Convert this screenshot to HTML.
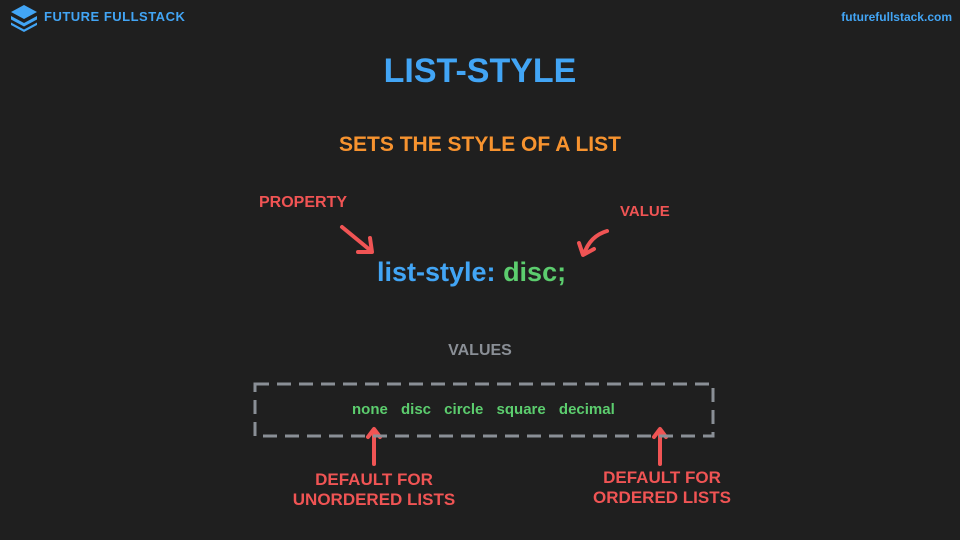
<!DOCTYPE html>
<html><head><style>
body{margin:0;width:960px;height:540px;background:#1f1f1f;position:relative;overflow:hidden;font-family:"Liberation Sans",sans-serif}
.a{position:absolute;white-space:nowrap}
.h{font-weight:bold;text-transform:uppercase}
</style></head><body>
<svg class="a" style="left:8px;top:4px" width="32" height="28" viewBox="0 0 32 28">
<path d="M16 1 L29 8 L16 15 L3 8Z" fill="#42a5f5"/>
<path d="M3 12 L16 19 L29 12 L29 15.5 L16 22.5 L3 15.5Z" fill="#42a5f5"/>
<path d="M3 18.5 L16 25.5 L29 18.5 L29 21 L16 28 L3 21Z" fill="#42a5f5"/>
</svg>
<div class="a h" style="left:44px;top:9px;font-size:13px;color:#42a5f5;letter-spacing:0.5px">Future Fullstack</div>
<div class="a" style="right:8px;top:10px;font-size:12px;font-weight:bold;color:#42a5f5">futurefullstack.com</div>
<div class="a h" style="left:0;width:960px;text-align:center;top:52px;font-size:34px;color:#42a5f5">List-Style</div>
<div class="a h" style="left:0;width:960px;text-align:center;top:133px;font-size:21px;color:#f7932f">Sets the style of a list</div>
<div class="a h" style="left:259px;top:194px;font-size:16px;color:#f05454">Property</div>
<div class="a h" style="left:620px;top:203px;font-size:15px;color:#f05454">Value</div>
<svg class="a" style="left:0;top:0" width="960" height="540">
<g stroke="#f05454" stroke-width="4" fill="none" stroke-linecap="round" stroke-linejoin="round">
<path d="M342 227 L370 250"/><path d="M358 252 L372 252 L370 238"/>
<path d="M607 231 Q590 236 584 254"/><path d="M579 243 L583 255 L594 249"/>
<path d="M374 464 L374 430"/><path d="M368 437 L374 429 L380 437"/>
<path d="M660 464 L660 430"/><path d="M654 437 L660 429 L666 437"/>
</g>
<rect x="255" y="384" width="458" height="52" fill="none" stroke="#8a8f96" stroke-width="3" stroke-dasharray="14,8"/>
</svg>
<div class="a" style="left:377px;top:257px;font-size:27px;font-weight:bold"><span style="color:#42a5f5">list-style:</span> <span style="color:#5ccd6e">disc;</span></div>
<div class="a h" style="left:0;width:960px;text-align:center;top:342px;font-size:16px;color:#8a8f96">Values</div>
<div class="a" style="left:352px;top:401px;font-size:15px;font-weight:bold;color:#5ccd6e;word-spacing:9px">none disc circle square decimal</div>
<div class="a h" style="left:274px;width:200px;text-align:center;top:470px;font-size:17px;line-height:20px;color:#f05454">Default for<br>unordered lists</div>
<div class="a h" style="left:562px;width:200px;text-align:center;top:468px;font-size:17px;line-height:20px;color:#f05454">Default for<br>ordered lists</div>
</body></html>
